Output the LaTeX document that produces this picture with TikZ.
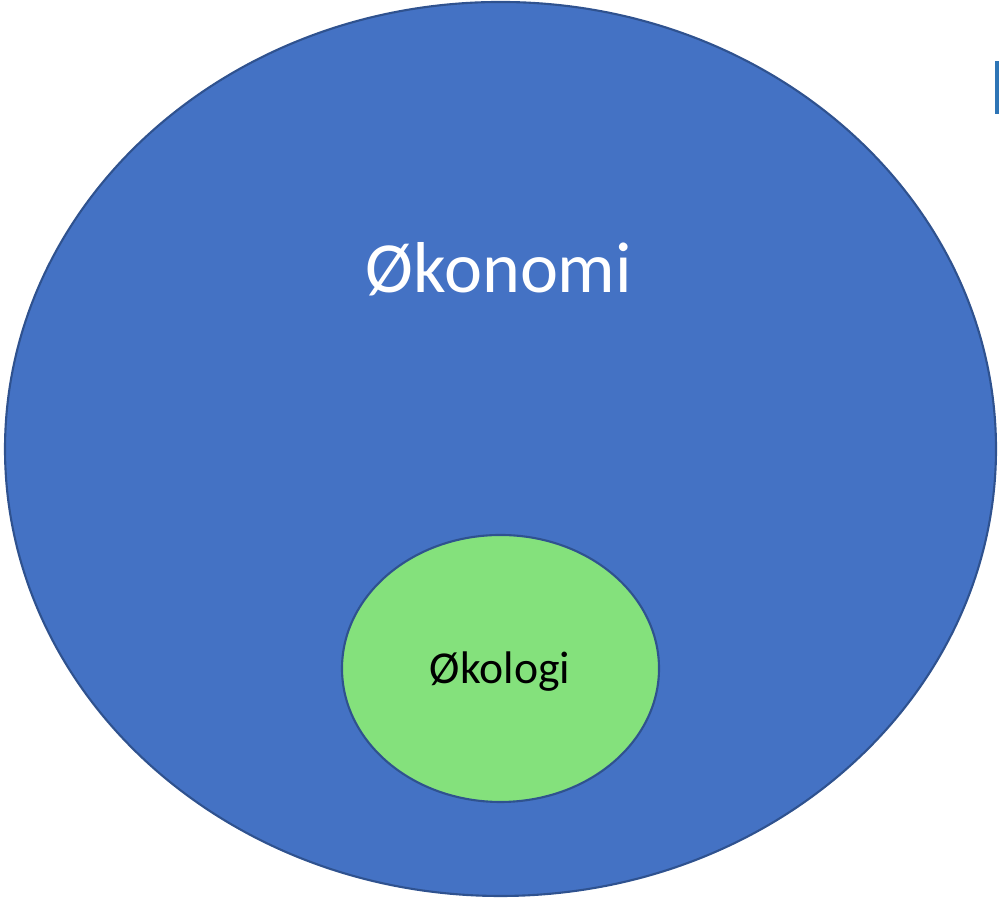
\documentclass[tikz,border=0pt]{standalone}
\usepackage{fontspec}
\setmainfont{Carlito}
\usepackage{tikz}
\usetikzlibrary{shapes.geometric}

\definecolor{oekoblue}{HTML}{4472C4}
\definecolor{oekoedge}{HTML}{2F528F}
\definecolor{oekogreen}{HTML}{84E17C}
\definecolor{oekomark}{HTML}{2E75B6}

\begin{document}
\begin{tikzpicture}
\useasboundingbox (0,0) rectangle (9.99,8.99);

% big ellipse
\draw[line width=0.6pt, draw=oekoedge, fill=oekoblue] (5.005,4.50) ellipse [x radius=4.955, y radius=4.47];
\node[anchor = base, white, font=\fontsize{20.5}{24}\selectfont] (okonomi) at (4.99,6.06) {Økonomi};

% small ellipse
\draw[line width=0.6pt, draw=oekoedge, fill=oekogreen] (5.005,2.305) ellipse [x radius=1.585, y radius=1.335];
\node[anchor = base, black, font=\fontsize{13}{16}\selectfont] (okologi) at (5.00,2.15) {Økologi};

% clipped mark at the right edge
\fill[oekomark] (9.95,8.38) rectangle (9.99,7.85);
\end{tikzpicture}
\end{document}
